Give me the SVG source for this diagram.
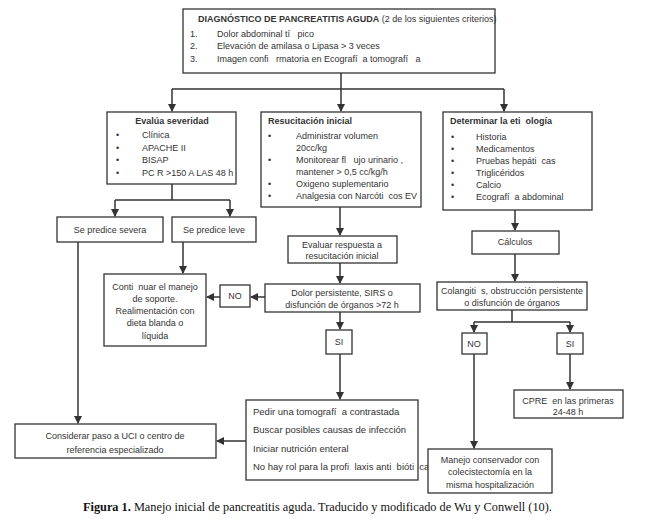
<svg xmlns="http://www.w3.org/2000/svg" width="658" height="520" viewBox="0 0 658 520">
<defs>
<marker id="ah" markerWidth="8" markerHeight="8" refX="7" refY="4" orient="auto" markerUnits="userSpaceOnUse">
<path d="M0,0 L8,4 L0,8 z" fill="#333"/>
</marker>
<style>
.b{fill:#fff;stroke:#333;stroke-width:1.3}
.t{font-family:"Liberation Sans",Arial,sans-serif;font-size:9px;fill:#333}
.p{font-size:9.5px}
.c{text-anchor:middle}
.bd{font-weight:bold}
.ln{fill:none;stroke:#333;stroke-width:1.5}
.cap{font-family:"Liberation Serif","Times New Roman",serif;font-size:12.3px;fill:#111}
</style>
</defs>
<rect width="658" height="520" fill="#fff"/>
<g id="connectors">
<path class="ln" d="M341,73 V89 M172,89 H504"/>
<path class="ln" d="M172,89 V111" marker-end="url(#ah)"/>
<path class="ln" d="M341,89 V111" marker-end="url(#ah)"/>
<path class="ln" d="M504,89 V111" marker-end="url(#ah)"/>
<path class="ln" d="M172,184 V200 M115,200 H230"/>
<path class="ln" d="M115,200 V216" marker-end="url(#ah)"/>
<path class="ln" d="M230,200 V216" marker-end="url(#ah)"/>
<path class="ln" d="M78,242 V423" marker-end="url(#ah)"/>
<path class="ln" d="M183,242 V273" marker-end="url(#ah)"/>
<path class="ln" d="M340,207 V235" marker-end="url(#ah)"/>
<path class="ln" d="M340,263 V283" marker-end="url(#ah)"/>
<path class="ln" d="M265,297 H251" marker-end="url(#ah)"/>
<path class="ln" d="M220,297 H207" marker-end="url(#ah)"/>
<path class="ln" d="M340,312 V329" marker-end="url(#ah)"/>
<path class="ln" d="M340,354 V399" marker-end="url(#ah)"/>
<path class="ln" d="M246,441 H217" marker-end="url(#ah)"/>
<path class="ln" d="M515,210 V230" marker-end="url(#ah)"/>
<path class="ln" d="M515,254 V281" marker-end="url(#ah)"/>
<path class="ln" d="M512,310 V322 M474,322 H570"/>
<path class="ln" d="M474,322 V332" marker-end="url(#ah)"/>
<path class="ln" d="M570,322 V332" marker-end="url(#ah)"/>
<path class="ln" d="M474,354 V448" marker-end="url(#ah)"/>
<path class="ln" d="M570,354 V389" marker-end="url(#ah)"/>
</g>
<g id="diagnostico">
<rect class="b" x="183" y="9" width="312" height="64"/>
<text class="t" x="198" y="22"><tspan class="bd">DIAGNÓSTICO DE PANCREATITIS AGUDA</tspan> (2 de los siguientes criterios)</text>
<text class="t" x="190" y="37">1.</text><text class="t" x="217" y="37" xml:space="preserve">Dolor abdominal tí   pico</text>
<text class="t" x="190" y="49">2.</text><text class="t" x="217" y="49">Elevación de amilasa o Lipasa &gt; 3 veces</text>
<text class="t" x="190" y="62">3.</text><text class="t" x="217" y="62" xml:space="preserve">Imagen confi   rmatoria en Ecografí  a tomografí   a</text>
</g>
<g id="severidad">
<rect class="b" x="107" y="112" width="129" height="72"/>
<text class="t bd c" x="172" y="124">Evalúa severidad</text>
<text class="t" x="116" y="138">•</text><text class="t" x="142" y="138">Clínica</text>
<text class="t" x="116" y="151">•</text><text class="t" x="142" y="151">APACHE II</text>
<text class="t" x="116" y="163">•</text><text class="t" x="142" y="163">BISAP</text>
<text class="t" x="116" y="176">•</text><text class="t" x="142" y="176">PC R &gt;150 A LAS 48 h</text>
</g>
<g id="resucitacion">
<rect class="b" x="261" y="112" width="160" height="95"/>
<text class="t bd" x="268" y="124">Resucitación inicial</text>
<text class="t" x="268" y="139">•</text><text class="t" x="296" y="139">Administrar volumen</text>
<text class="t" x="296" y="151">20cc/kg</text>
<text class="t" x="268" y="163">•</text><text class="t" x="296" y="163" xml:space="preserve">Monitorear fl   ujo urinario ,</text>
<text class="t" x="296" y="175">mantener &gt; 0,5 cc/kg/h</text>
<text class="t" x="268" y="187">•</text><text class="t" x="296" y="187">Oxigeno suplementario</text>
<text class="t" x="268" y="199">•</text><text class="t" x="296" y="199" xml:space="preserve">Analgesia con Narcóti  cos EV</text>
</g>
<g id="etiologia">
<rect class="b" x="443" y="112" width="149" height="98"/>
<text class="t bd" x="450" y="124" xml:space="preserve">Determinar la eti  ología</text>
<text class="t" x="451" y="140">•</text><text class="t" x="476" y="140">Historia</text>
<text class="t" x="451" y="152">•</text><text class="t" x="476" y="152">Medicamentos</text>
<text class="t" x="451" y="164">•</text><text class="t" x="476" y="164" xml:space="preserve">Pruebas hepáti  cas</text>
<text class="t" x="451" y="176">•</text><text class="t" x="476" y="176">Triglicéridos</text>
<text class="t" x="451" y="188">•</text><text class="t" x="476" y="188">Calcio</text>
<text class="t" x="451" y="200">•</text><text class="t" x="476" y="200" xml:space="preserve">Ecografí  a abdominal</text>
</g>
<g id="severa">
<rect class="b" x="57" y="217" width="106" height="25"/>
<text class="t c" x="110" y="233">Se predice severa</text>
</g>
<g id="leve">
<rect class="b" x="172" y="217" width="84" height="25"/>
<text class="t c" x="214" y="233">Se predice leve</text>
</g>
<g id="evaluar">
<rect class="b" x="288" y="236" width="109" height="27"/>
<text class="t c" x="342" y="248">Evaluar respuesta a</text>
<text class="t c" x="342" y="259">resucitación inicial</text>
</g>
<g id="calculos">
<rect class="b" x="472" y="231" width="87" height="23"/>
<text class="t c" x="515" y="245">Cálculos</text>
</g>
<g id="continuar">
<rect class="b" x="104" y="274" width="102" height="72"/>
<text class="t c" x="155" y="290" xml:space="preserve">Conti  nuar el manejo</text>
<text class="t c" x="155" y="302">de soporte.</text>
<text class="t c" x="155" y="314">Realimentación con</text>
<text class="t c" x="155" y="326">dieta blanda o</text>
<text class="t c" x="155" y="339">líquida</text>
</g>
<g id="no1">
<rect class="b" x="220" y="285" width="30" height="22"/>
<text class="t c" x="235" y="299">NO</text>
</g>
<g id="dolor">
<rect class="b" x="265" y="284" width="155" height="28"/>
<text class="t c" x="342" y="296">Dolor persistente, SIRS o</text>
<text class="t c" x="342" y="308">disfunción de órganos &gt;72 h</text>
</g>
<g id="colangitis">
<rect class="b" x="437" y="282" width="150" height="28"/>
<text class="t c" x="512" y="294" xml:space="preserve">Colangiti  s, obstrucción persistente</text>
<text class="t c" x="512" y="306">o disfunción de órganos</text>
</g>
<g id="si1">
<rect class="b" x="326" y="330" width="26" height="24"/>
<text class="t c" x="339" y="345">SI</text>
</g>
<g id="no2">
<rect class="b" x="462" y="333" width="25" height="21"/>
<text class="t c" x="474" y="347">NO</text>
</g>
<g id="si2">
<rect class="b" x="557" y="333" width="26" height="21"/>
<text class="t c" x="570" y="347">SI</text>
</g>
<g id="cpre">
<rect class="b" x="514" y="390" width="109" height="28"/>
<text class="t c" x="568" y="404" xml:space="preserve">CPRE  en las primeras</text>
<text class="t c" x="568" y="415">24-48 h</text>
</g>
<g id="considerar">
<rect class="b" x="15" y="424" width="201" height="34"/>
<text class="t c" x="115" y="439">Considerar paso a UCI o centro de</text>
<text class="t c" x="115" y="453">referencia especializado</text>
</g>
<g id="pedir">
<rect class="b" x="246" y="400" width="172" height="80"/>
<text class="t p" x="253" y="415" xml:space="preserve">Pedir una tomografí  a contrastada</text>
<text class="t p" x="253" y="433">Buscar posibles causas de infección</text>
<text class="t p" x="253" y="452">Iniciar nutrición enteral</text>
<text class="t p" x="253" y="470" xml:space="preserve">No hay rol para la profi  laxis anti  bióti  ca</text>
</g>
<g id="manejo">
<rect class="b" x="428" y="449" width="124" height="44"/>
<text class="t c" x="490" y="463">Manejo conservador con</text>
<text class="t c" x="490" y="475">colecistectomía en la</text>
<text class="t c" x="490" y="488">misma hospitalización</text>
</g>
<text class="cap" x="83" y="511"><tspan font-weight="bold">Figura 1.</tspan> Manejo inicial de pancreatitis aguda. Traducido y modificado de Wu y Conwell (10).</text>
</svg>
